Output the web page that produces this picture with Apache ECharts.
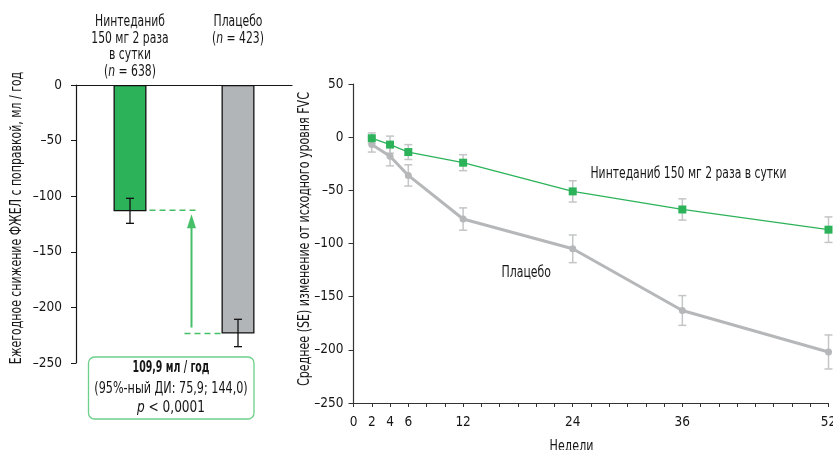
<!DOCTYPE html>
<html>
<head>
<meta charset="utf-8">
<script src="https://cdn.jsdelivr.net/npm/echarts@6/dist/echarts.min.js"></script>
<style>
  html, body { margin: 0; padding: 0; background: #fff; }
  #chart { width: 833px; height: 450px; }
</style>
</head>
<body>
<div id="chart"></div>
<script>
// Annual rate of FVC decline (left panel)
const groupNames = ['Нинтеданиб\n150 мг 2 раза\nв сутки', 'Плацебо'];
const groupN = [638, 423];
const annualRate = [-113.6, -223.5];
const annualLow = [-124.4, -235.3];
const annualHigh = [-101.9, -210.7];
const annualTicks = [0, -50, -100, -150, -200, -250];

// Mean (SE) change from baseline over time (right panel)
const weeks = [2, 4, 6, 12, 24, 36, 52];
const weekLabels = [0, 2, 4, 6, 12, 24, 36, 52];
const ninChange = [-1, -7, -14, -24, -51, -68, -87];
const ninSE = [5, 8, 7, 7.5, 10, 10, 12];
const plaChange = [-7, -18, -36, -77, -105, -163, -202];
const plaSE = [7, 9, 10, 10.5, 13, 14, 16];

const leftAxisName = 'Ежегодное снижение ФЖЕЛ с поправкой, мл / год';
const rightAxisName = 'Среднее (SE) изменение от исходного уровня FVC';
const weeksAxisName = 'Недели';
const diffText = ['109,9 мл / год', '(95%-ный ДИ: 75,9; 144,0)', '{i|p} < 0,0001'];
const ninLabel = 'Нинтеданиб 150 мг 2 раза в сутки';
const plaLabel = 'Плацебо';

const FONT = "'DejaVu Sans Condensed', 'Liberation Sans Narrow', 'Liberation Sans', sans-serif";
const INK = '#161616';
const GREEN = '#2cb35a';
const GREY_BAR = '#b2b5b7';
const GREY_LINE = '#b5b7b9';
const ERR_GREY = '#c4c5c6';
const ANNOT_GREEN = '#45bf68';

const minusFmt = v => (v < 0 ? '–' + Math.abs(v) : String(v));

function errorBars(xIdx, yIdx, rows, color, width, cap, z) {
  return {
    type: 'custom',
    xAxisIndex: xIdx,
    yAxisIndex: yIdx,
    z: z,
    silent: true,
    animation: false,
    encode: { x: 0, y: [1, 2] },
    data: rows,
    renderItem: function (params, api) {
      const x = api.value(0);
      const lo = api.coord([x, api.value(1)]);
      const hi = api.coord([x, api.value(2)]);
      const style = { stroke: color, lineWidth: width };
      return {
        type: 'group',
        children: [
          { type: 'line', shape: { x1: lo[0], y1: lo[1], x2: hi[0], y2: hi[1] }, style: style },
          { type: 'line', shape: { x1: lo[0] - cap, y1: lo[1], x2: lo[0] + cap, y2: lo[1] }, style: style },
          { type: 'line', shape: { x1: hi[0] - cap, y1: hi[1], x2: hi[0] + cap, y2: hi[1] }, style: style }
        ]
      };
    }
  };
}

// Condensed text helper: the glyphs are narrowed horizontally
function label(text, x, y, opts) {
  opts = opts || {};
  return {
    type: 'text',
    silent: true,
    x: x,
    y: y,
    rotation: opts.rotation || 0,
    scaleX: opts.scaleX || 0.8,
    style: {
      text: text,
      fontFamily: FONT,
      fontSize: opts.fontSize || 15,
      fontWeight: opts.fontWeight || 'normal',
      lineHeight: opts.lineHeight,
      fill: INK,
      align: opts.align || 'center',
      verticalAlign: opts.verticalAlign || 'middle',
      rich: opts.rich
    }
  };
}

const chart = echarts.init(document.getElementById('chart'), null, { renderer: 'canvas' });

const option = {
  animation: false,
  backgroundColor: '#fff',
  textStyle: { fontFamily: FONT },
  grid: [
    { left: 76, top: 85, width: 216, height: 278, outerBoundsMode: 'none', containLabel: false },
    { left: 353.5, top: 84, width: 475, height: 319, outerBoundsMode: 'none', containLabel: false }
  ],
  xAxis: [
    {
      gridIndex: 0,
      type: 'category',
      position: 'top',
      data: groupNames,
      axisLine: { show: true, onZero: false, lineStyle: { color: INK, width: 1.2 } },
      axisTick: { show: false },
      axisLabel: { show: false },
      splitLine: { show: false }
    },
    {
      gridIndex: 1,
      type: 'value',
      min: 0,
      max: 52,
      interval: 2,
      axisLine: { show: true, onZero: false, lineStyle: { color: '#333', width: 1.2 } },
      axisTick: { show: true, inside: false, length: 4, lineStyle: { color: '#333', width: 1 } },
      axisLabel: {
        margin: 12,
        fontFamily: FONT,
        fontSize: 13.5,
        color: INK,
        showMaxLabel: true,
        hideOverlap: false,
        formatter: v => (weekLabels.indexOf(v) >= 0 ? String(v) : '')
      },
      splitLine: { show: false }
    }
  ],
  yAxis: [
    {
      gridIndex: 0,
      type: 'value',
      min: -250,
      max: 0,
      interval: 50,
      axisLine: { show: true, lineStyle: { color: INK, width: 1.2 } },
      axisTick: { show: true, length: 5, lineStyle: { color: INK, width: 1 } },
      axisLabel: {
        margin: 14,
        fontFamily: FONT,
        fontSize: 13.5,
        color: INK,
        formatter: v => (annualTicks.indexOf(v) >= 0 ? minusFmt(v) : '')
      },
      splitLine: { show: false }
    },
    {
      gridIndex: 1,
      type: 'value',
      min: -250,
      max: 50,
      interval: 50,
      axisLine: { show: true, onZero: false, lineStyle: { color: '#333', width: 1.2 } },
      axisTick: { show: true, length: 5, lineStyle: { color: '#333', width: 1 } },
      axisLabel: {
        margin: 10,
        fontFamily: FONT,
        fontSize: 13.5,
        color: INK,
        formatter: minusFmt
      },
      splitLine: { show: false }
    }
  ],
  series: [
    {
      type: 'bar',
      xAxisIndex: 0,
      yAxisIndex: 0,
      barWidth: 33,
      z: 2,
      data: annualRate.map((v, i) => ({
        value: v,
        itemStyle: { color: i === 0 ? GREEN : GREY_BAR, borderColor: '#111', borderWidth: 1.3 }
      }))
    },
    errorBars(0, 0, annualRate.map((v, i) => [i, annualLow[i], annualHigh[i]]), '#111', 1.3, 4, 5),
    errorBars(1, 1, weeks.map((w, i) => [w, plaChange[i] - plaSE[i], plaChange[i] + plaSE[i]]), ERR_GREY, 1.5, 4, 1),
    errorBars(1, 1, weeks.map((w, i) => [w, ninChange[i] - ninSE[i], ninChange[i] + ninSE[i]]), ERR_GREY, 1.5, 4, 1),
    {
      type: 'line',
      name: plaLabel,
      xAxisIndex: 1,
      yAxisIndex: 1,
      z: 3,
      data: weeks.map((w, i) => [w, plaChange[i]]),
      symbol: 'circle',
      symbolSize: 7,
      lineStyle: { color: GREY_LINE, width: 3 },
      itemStyle: { color: GREY_LINE }
    },
    {
      type: 'line',
      name: ninLabel,
      xAxisIndex: 1,
      yAxisIndex: 1,
      z: 4,
      data: weeks.map((w, i) => [w, ninChange[i]]),
      symbol: 'rect',
      symbolSize: 8,
      lineStyle: { color: GREEN, width: 1.3 },
      itemStyle: { color: GREEN }
    }
  ]
};

chart.setOption(option);

// Positions taken from the axes after layout
const yNin = chart.convertToPixel({ yAxisIndex: 0 }, annualRate[0]);
const yPla = chart.convertToPixel({ yAxisIndex: 0 }, annualRate[1]);
const xNin = chart.convertToPixel({ xAxisIndex: 0 }, 0);
const xPla = chart.convertToPixel({ xAxisIndex: 0 }, 1);
const ninRight = xNin + 16.5;
const plaLeft = xPla - 16.5;
const arrowX = plaLeft - 30;
const dash = { stroke: ANNOT_GREEN, lineWidth: 1.5, lineDash: [6, 4] };
const boxCx = 171;
const italicRich = size => ({ i: { fontFamily: FONT, fontSize: size, fontStyle: 'italic', fill: INK } });

const groupHeads = groupNames.map((name, i) =>
  label(name + '\n({i|n} = ' + groupN[i] + ')', [xNin, xPla][i], 14, {
    fontSize: 16, lineHeight: 16.5, scaleX: 0.75, verticalAlign: 'top',
    rich: italicRich(16)
  })
);

chart.setOption({
  graphic: groupHeads.concat([
    label(leftAxisName, 17, 218, { rotation: Math.PI / 2, scaleX: 0.81 }),
    label(rightAxisName, 305, 239, { rotation: Math.PI / 2, scaleX: 0.82 }),
    label(weeksAxisName, 571.5, 447, { scaleX: 0.82 }),
    { type: 'line', silent: true, shape: { x1: ninRight + 3, y1: yNin - 1, x2: plaLeft - 22, y2: yNin - 1 }, style: dash },
    { type: 'line', silent: true, shape: { x1: plaLeft - 37, y1: yPla, x2: plaLeft, y2: yPla }, style: dash },
    { type: 'line', silent: true, shape: { x1: arrowX, y1: yPla - 6, x2: arrowX, y2: yNin + 16 }, style: { stroke: ANNOT_GREEN, lineWidth: 2 } },
    { type: 'polygon', silent: true, shape: { points: [[arrowX - 4.5, yNin + 17], [arrowX + 4.5, yNin + 17], [arrowX, yNin + 3]] }, style: { fill: ANNOT_GREEN } },
    { type: 'rect', silent: true, shape: { x: 88.5, y: 357, width: 165.5, height: 62, r: 6 }, style: { fill: 'none', stroke: '#6ccf8a', lineWidth: 1.3 } },
    label(diffText[0], boxCx, 368.5, { fontWeight: 'bold', scaleX: 0.7 }),
    label(diffText[1], boxCx, 389, { scaleX: 0.83 }),
    label(diffText[2], boxCx, 408.5, { scaleX: 0.9, rich: italicRich(15) }),
    label(ninLabel, 590.5, 174, { align: 'left', scaleX: 0.8 }),
    label(plaLabel, 501.5, 273.5, { align: 'left', scaleX: 0.81 })
  ])
});
</script>
</body>
</html>
